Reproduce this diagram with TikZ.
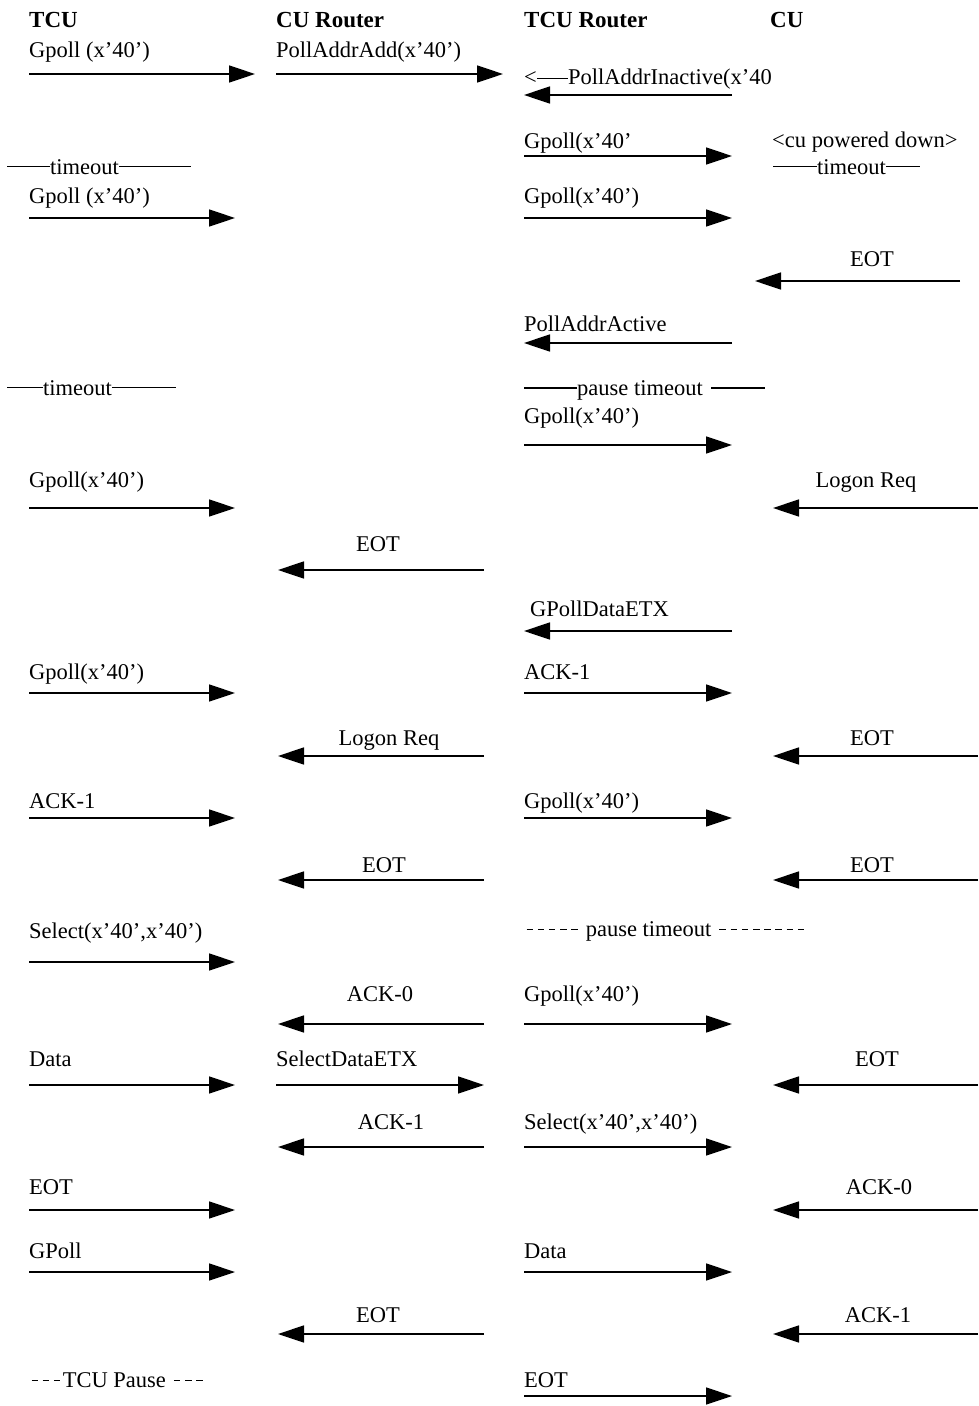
\documentclass[tikz,border=0pt]{standalone}
\usepackage{fontspec}
\setmainfont{Liberation Serif}
\usetikzlibrary{arrows.meta}
\newcommand{\hy}{\makebox[11.2pt]{\rule[0.26em]{6.5pt}{1.2pt}}}
\tikzset{
  msg/.style={line width=1.6pt, -{Triangle[length=26pt,width=17pt]}},
  lbl/.style={anchor=base west, inner sep=0pt, font=\fontsize{22.5}{26}\selectfont},
  mid/.style={lbl, anchor=base},
  hdr/.style={lbl, font=\fontsize{23}{26}\selectfont\bfseries},
  bar/.style={line width=1.2pt}
}
\begin{document}
\begin{tikzpicture}[x=1pt,y=-1pt]
	\useasboundingbox (0,0) rectangle (978,1406);
	% heads
	\node[hdr] (tcu) at (29,27) {TCU};
	\node[hdr] (curt) at (276,27) {CU Router};
	\node[hdr] (tcurt) at (524,27) {TCU Router};
	\node[hdr] (cu) at (770,27) {CU};
	% TCU -> CU Router
	\node[lbl] (ga1) at (29,57) {Gpoll (x’40’)};
	\node[lbl] (toa1) at (50,174) {timeout};
	\draw[bar] (toa1.west) -- ++(-43,0);
	\draw[bar] (toa1.east) -- ++(72,0);
	\node[lbl] (ga2) at (29,203) {Gpoll (x’40’)};
	\node[lbl] (toa2) at (43,395) {timeout};
	\draw[bar] (toa2.west) -- ++(-36,0);
	\draw[bar] (toa2.east) -- ++(64,0);
	\node[lbl] (ga3) at (29,487) {Gpoll(x’40’)};
	\node[lbl] (ga4) at (29,679) {Gpoll(x’40’)};
	\node[lbl] (acka) at (29,808) {ACK-1};
	\node[lbl] (sela) at (29,938) {Select(x’40’,x’40’)};
	\node[lbl] (data) at (29,1066) {Data};
	\node[lbl] (eota) at (29,1194) {EOT};
	\node[lbl] (gpa) at (29,1258) {GPoll};
	\node[lbl] (pausea) at (29,1387) {\hy\hy\hy TCU Pause \hy\hy\hy};
	\foreach \y/\xe [count=\i] in {74/255,218/235,508/235,693/235,818/235,962/235,1085/235,1210/235,1272/235}{
		\coordinate (as\i) at (29,\y);
		\coordinate (ae\i) at (\xe,\y);
		\draw[msg] (as\i) -- (ae\i);
	}
	% CU Router
	\node[lbl] (pad) at (276,57) {PollAddrAdd(x’40’)};
	\node[mid] (eotb1) at (378,551) {EOT};
	\node[mid] (logb) at (389,745) {Logon Req};
	\node[mid] (eotb2) at (384,872) {EOT};
	\node[mid] (ack0b) at (380,1001) {ACK-0};
	\node[lbl] (sdetx) at (276,1066) {SelectDataETX};
	\node[mid] (ack1b) at (391,1129) {ACK-1};
	\node[mid] (eotb3) at (378,1322) {EOT};
	\foreach \y/\xe [count=\i] in {74/503,1085/484}{
		\coordinate (bs\i) at (276,\y);
		\coordinate (be\i) at (\xe,\y);
		\draw[msg] (bs\i) -- (be\i);
	}
	\foreach \y [count=\i] in {570,756,880,1024,1147,1334}{
		\coordinate (bls\i) at (484,\y);
		\coordinate (ble\i) at (278,\y);
		\draw[msg] (bls\i) -- (ble\i);
	}
	% TCU Router
	\node[lbl] (lt) at (524,84) {<};
	\node[lbl] (pai) at (568,84) {PollAddrInactive(x’40};
	\draw[bar] ([yshift=5.5pt]lt.base east) -- ([yshift=5.5pt]pai.base west);
	\node[lbl] (gc1) at (524,148) {Gpoll(x’40’};
	\node[lbl] (gc2) at (524,203) {Gpoll(x’40’)};
	\node[lbl] (paa) at (524,331) {PollAddrActive};
	\node[lbl] (ptc1) at (577,395) {pause timeout};
	\draw[bar] ([yshift=7pt]ptc1.base west) -- ++(-53,0);
	\draw[bar] ([xshift=8pt,yshift=7pt]ptc1.base east) -- ++(54,0);
	\node[lbl] (gc3) at (524,423) {Gpoll(x’40’)};
	\node[lbl] (gpde) at (530,616) {GPollDataETX};
	\node[lbl] (ack1c) at (524,679) {ACK-1};
	\node[lbl] (gc4) at (524,808) {Gpoll(x’40’)};
	\node[lbl] (ptc2) at (524,936) {\hy\hy\hy\hy\hy{} pause timeout \hy\hy\hy\hy\hy\hy\hy\hy};
	\node[lbl] (gc5) at (524,1001) {Gpoll(x’40’)};
	\node[lbl] (selc) at (524,1129) {Select(x’40’,x’40’)};
	\node[lbl] (datc) at (524,1258) {Data};
	\node[lbl] (eotc) at (524,1387) {EOT};
	\foreach \y [count=\i] in {156,218,445,693,818,1024,1147,1272,1396}{
		\coordinate (cs\i) at (524,\y);
		\coordinate (ce\i) at (732,\y);
		\draw[msg] (cs\i) -- (ce\i);
	}
	\foreach \y [count=\i] in {95,343,631}{
		\coordinate (cls\i) at (732,\y);
		\coordinate (cle\i) at (524,\y);
		\draw[msg] (cls\i) -- (cle\i);
	}
	% CU
	\node[lbl] (pwd) at (772,147) {<cu powered down>};
	\node[lbl] (tod) at (817,174) {timeout};
	\draw[bar] (tod.west) -- ++(-44,0);
	\draw[bar] (tod.east) -- ++(34,0);
	\node[mid] (eotd1) at (872,266) {EOT};
	\node[mid] (logd) at (866,487) {Logon Req};
	\node[mid] (eotd2) at (872,745) {EOT};
	\node[mid] (eotd3) at (872,872) {EOT};
	\node[mid] (eotd4) at (877,1066) {EOT};
	\node[mid] (ack0d) at (879,1194) {ACK-0};
	\node[mid] (ack1d) at (878,1322) {ACK-1};
	\foreach \y/\xs/\xe [count=\i] in {281/960/755,508/978/773,756/978/773,880/978/773,1085/978/773,1210/978/773,1334/978/773}{
		\coordinate (ds\i) at (\xs,\y);
		\coordinate (de\i) at (\xe,\y);
		\draw[msg] (ds\i) -- (de\i);
	}
\end{tikzpicture}
\end{document}
